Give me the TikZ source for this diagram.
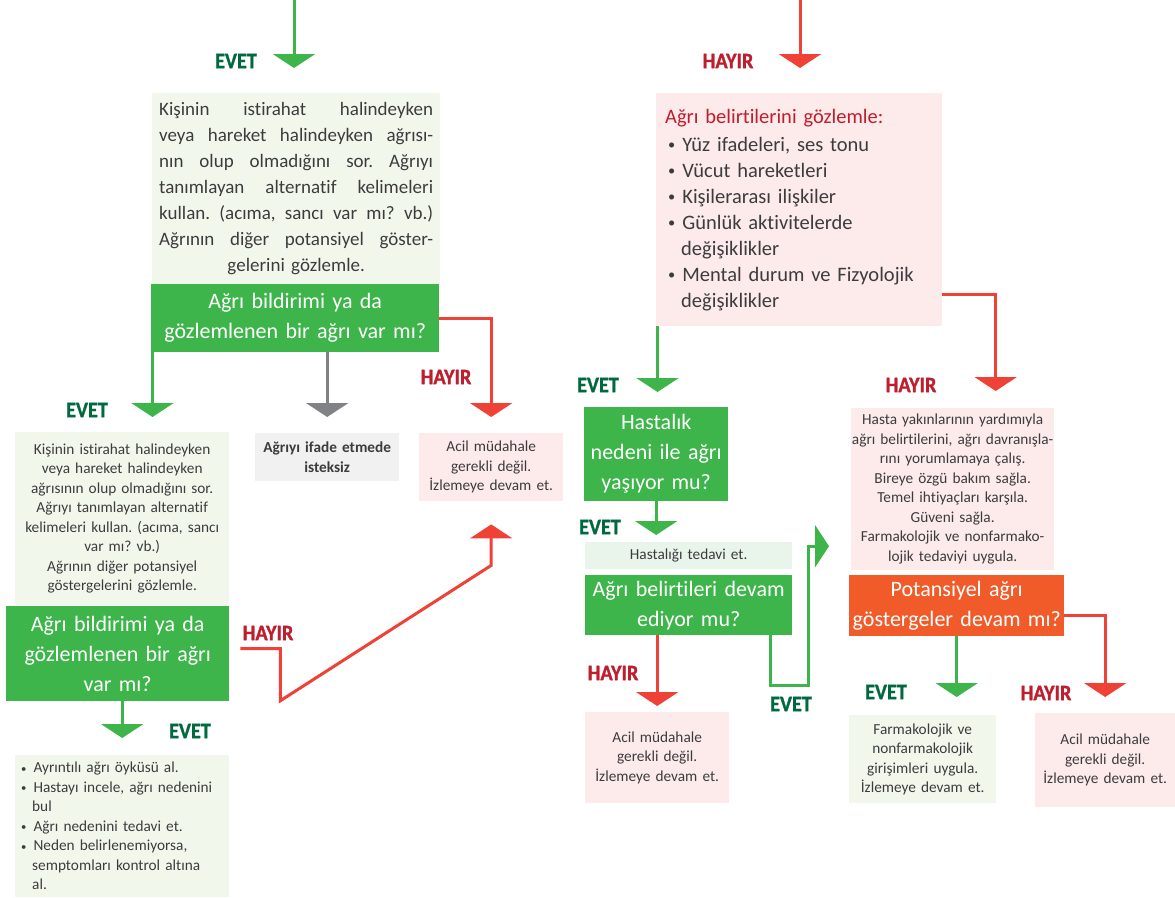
\documentclass[tikz,border=0pt]{standalone}
\usepackage{fontspec}
\setmainfont{Carlito}[Ligatures=NoCommon]
\usetikzlibrary{arrows.meta,calc}
\frenchspacing

\definecolor{lgreen}{HTML}{3DB54A}
\definecolor{lred}{HTML}{EF4136}
\definecolor{lgray}{HTML}{808285}
\definecolor{evetcol}{HTML}{00693E}
\definecolor{hayircol}{HTML}{BE1E2D}
\definecolor{greenfill}{HTML}{F2F7EC}
\definecolor{tedfill}{HTML}{E9F4EA}
\definecolor{pinkfill}{HTML}{FDEAEA}
\definecolor{grayfill}{HTML}{F1F1F2}
\definecolor{orangefill}{HTML}{F15B2A}
\definecolor{txtgray}{HTML}{3C3C3E}

\newcommand{\jline}[1]{\makebox[\linewidth][s]{\spaceskip=.22em plus 1fil\relax #1}}
\newcommand{\blt}{\hspace*{3pt}\raisebox{.12ex}{\scalebox{.7}{•}}\hspace{7pt}}
\newcommand{\labfont}{\fontsize{22}{22}\selectfont\bfseries\addfontfeature{FakeBold=1.2,FakeStretch=0.92}}

\tikzset{
  box/.style={rectangle, anchor=north west, inner sep=0pt, align=center, text=txtgray},
  greenbox/.style={box, fill=greenfill},
  pinkbox/.style={box, fill=pinkfill},
  graybox/.style={box, fill=grayfill},
  decbox/.style={box, fill=lgreen, text=white, font=\fontsize{22}{30}\selectfont},
  bigtext/.style={font=\fontsize{19}{26}\selectfont},
  listtext/.style={font=\fontsize{20.5}{26}\selectfont},
  smalltext/.style={font=\fontsize{15.3}{19.5}\selectfont},
  evet/.style={text=evetcol, font=\labfont},
  hayir/.style={text=hayircol, font=\labfont},
  garrow/.style={draw=lgreen, line width=3pt, -{Triangle[width=42pt,length=14pt]}},
  rarrow/.style={draw=lred, line width=3pt, -{Triangle[width=42pt,length=14pt]}},
  grarrow/.style={draw=lgray, line width=3pt, -{Triangle[width=42pt,length=14pt]}}
}

\begin{document}
\begin{tikzpicture}[x=1pt,y=-1pt]
  \useasboundingbox (0,0) rectangle (1175,897);
  % Incoming arrows at the top
  \coordinate (topL) at (294,0);
  \coordinate (topR) at (800,0);

  % Left branch
  \node[greenbox, bigtext, minimum width=288, minimum height=191, text width=274] (sor) at (152,93)
    {\jline{Kişinin istirahat halindeyken}\\
     \jline{veya hareket halindeyken ağrısı-}\\
     \jline{nın olup olmadığını sor. Ağrıyı}\\
     \jline{tanımlayan alternatif kelimeleri}\\
     \jline{kullan. (acıma, sancı var mı? vb.)}\\
     \jline{Ağrının diğer potansiyel göster-}\\
     gelerini  gözlemle.};
  \node[decbox, minimum width=288, minimum height=68, text width=284] (bildir1) at (151,284)
    {Ağrı bildirimi ya da\\gözlemlenen bir ağrı var mı?};
  \node[greenbox, smalltext, minimum width=214, minimum height=173, text width=212] (kisi2) at (15,432)
    {Kişinin istirahat halindeyken\\veya hareket halindeyken\\ağrısının olup olmadığını sor.\\
     Ağrıyı tanımlayan alternatif\\kelimeleri kullan. (acıma, sancı\\var mı? vb.)\\
     Ağrının diğer potansiyel\\göstergelerini  gözlemle.};
  \node[decbox, minimum width=223, minimum height=95, text width=219] (bildir2) at (6,606)
    {Ağrı bildirimi ya da\\gözlemlenen bir ağrı\\var mı?};
  \node[greenbox, smalltext, minimum width=214, minimum height=142, text width=208, align=left] (oyku) at (15,755)
    {\blt Ayrıntılı ağrı öyküsü al.\\
     \blt Hastayı incele, ağrı nedenini\\\hspace*{14pt}bul\\
     \blt Ağrı nedenini tedavi et.\\
     \blt Neden belirlenemiyorsa,\\\hspace*{14pt}semptomları kontrol altına\\\hspace*{14pt}al.};
  \node[graybox, smalltext, minimum width=144, minimum height=48, text width=140] (ifade) at (255,433)
    {\textbf{Ağrıyı ifade etmede}\\\textbf{isteksiz}};
  \node[pinkbox, smalltext, minimum width=144, minimum height=68, text width=140] (acil1) at (419,433)
    {Acil müdahale\\gerekli değil.\\İzlemeye devam et.};

  % Right branch
  \node[pinkbox, listtext, minimum width=286, minimum height=233, text width=268, align=left] (belirti) at (656,93)
    {\textcolor{hayircol}{Ağrı belirtilerini gözlemle:}\\[2pt]
     \blt Yüz ifadeleri, ses tonu\\
     \blt Vücut hareketleri\\
     \blt Kişilerarası ilişkiler\\
     \blt Günlük aktivitelerde\\\hspace*{16pt}değişiklikler\\
     \blt Mental durum ve Fizyolojik\\\hspace*{16pt}değişiklikler};
  \node[decbox, minimum width=144, minimum height=94, text width=142] (hast) at (584,407)
    {Hastalık\\nedeni ile ağrı\\yaşıyor mu?};
  \node[box, fill=tedfill, smalltext, minimum width=207, minimum height=27, text width=200] (tedavi) at (585,542)
    {Hastalığı tedavi et.};
  \node[decbox, minimum width=207, minimum height=60, text width=207] (devam) at (585,575)
    {Ağrı belirtileri devam\\ediyor mu?};
  \node[pinkbox, smalltext, minimum width=144, minimum height=91, text width=140] (acil2) at (585,712)
    {Acil müdahale\\gerekli değil.\\İzlemeye devam et.};
  \node[pinkbox, smalltext, minimum width=203, minimum height=162, text width=203] (yakin) at (851,408)
    {Hasta yakınlarının yardımıyla\\ağrı belirtilerini, ağrı davranışla-\\rını yorumlamaya çalış.\\
     Bireye özgü bakım sağla.\\Temel  ihtiyaçları karşıla.\\Güveni sağla.\\
     Farmakolojik ve nonfarmako-\\lojik tedaviyi uygula.};
  \node[decbox, fill=orangefill, minimum width=207, minimum height=61, text width=215] (potans) at (849,575)
    {Potansiyel ağrı\\göstergeler devam mı?};
  \node[greenbox, smalltext, minimum width=147, minimum height=88, text width=143] (farma) at (849,715)
    {Farmakolojik ve\\nonfarmakolojik\\girişimleri uygula.\\İzlemeye devam et.};
  \node[pinkbox, smalltext, minimum width=140, minimum height=94, text width=138] (acil3) at (1035,713)
    {Acil müdahale\\gerekli değil.\\İzlemeye devam et.};

  % Yes / no labels
  \node[evet] (evet1) at (236,61) {EVET};
  \node[hayir] (hayir1) at (728,61) {HAYIR};
  \node[evet] (evet2) at (87,410) {EVET};
  \node[hayir] (hayir2) at (446,377) {HAYIR};
  \node[hayir] (hayir3) at (268,633) {HAYIR};
  \node[evet] (evet3) at (190,731) {EVET};
  \node[evet] (evet4) at (598,385) {EVET};
  \node[hayir] (hayir4) at (911,385) {HAYIR};
  \node[evet] (evet5) at (600,527) {EVET};
  \node[hayir] (hayir5) at (613,673) {HAYIR};
  \node[evet] (evet6) at (791,704) {EVET};
  \node[evet] (evet7) at (886,692) {EVET};
  \node[hayir] (hayir6) at (1046,693) {HAYIR};

  % Connectors
  \draw[garrow, shorten >=25pt] (topL) -- (topL |- sor.north);
  \draw[rarrow, shorten >=25pt] (topR) -- (topR |- belirti.north);
  \draw[garrow, shorten >=15pt] ([xshift=1.5pt]bildir1.south west) -- ([xshift=1.5pt]bildir1.south west |- kisi2.north);
  \draw[grarrow, shorten >=16pt] (ifade.north |- bildir1.south) -- (ifade.north);
  \draw[rarrow, shorten >=16pt] (bildir1.east) -| (acil1.north);
  \draw[garrow, shorten >=17pt] (oyku.north |- bildir2.south) -- (oyku.north);
  \draw[rarrow, shorten >=23pt] ([shift={(11,-5)}]bildir2.east) -- ++(40,0) -- ++(0,52)
    -- ($(acil1.south)+(0,64)$) -- (acil1.south); % back up to the first box
  \draw[garrow, shorten >=15pt] ([xshift=1.5pt]belirti.south west) -- ([xshift=1.5pt]belirti.south west |- hast.north);
  \draw[rarrow, shorten >=17pt] ([yshift=32pt]belirti.south east) -| ([xshift=43pt]yakin.north);
  \draw[garrow, shorten >=7pt] (hast.south) -- (hast.south |- tedavi.north);
  \draw[rarrow, shorten >=6pt] (acil2.north |- devam.south) -- (acil2.north);
  \draw[garrow, shorten >=22pt] ([xshift=-22pt]devam.south east) -- ++(0,50) -- ++(38,0)
    |- ([yshift=-57pt]yakin.west); % loop over to the right
  \draw[garrow, shorten >=18pt] (potans.south) -- (potans.south |- farma.north);
  \draw[rarrow, shorten >=16pt] ([yshift=-10pt]potans.east) -| (acil3.north);
\end{tikzpicture}
\end{document}
